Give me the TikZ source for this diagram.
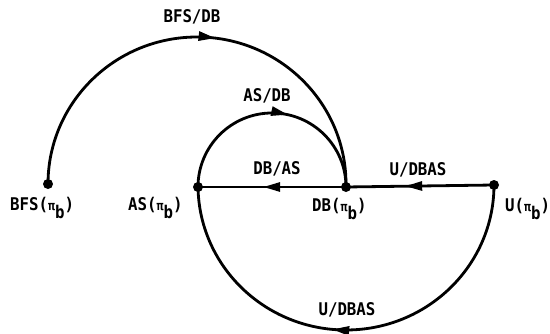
\documentclass[tikz,border=0pt]{standalone}
\usepackage{fontspec}
\newfontfamily\lblfont{DejaVu Sans Mono}[FakeStretch=0.9]
\usetikzlibrary{decorations.markings,arrows.meta}
\tikzset{
  lbl/.style={font=\lblfont\bfseries\fontsize{17.5}{18}\selectfont, inner sep=0pt},
  dot/.style={circle,fill,inner sep=0pt,minimum size=10pt},
  edge/.style={line width=2.8pt},
  midarrow/.style={postaction={decorate},
    decoration={markings,mark=at position #1 with {\arrow{Triangle[length=17pt,width=9pt]}}}},
}
\newcommand{\pib}{({\fontsize{13}{13}\selectfont π}\raisebox{-0.9ex}{b})}
\begin{document}
\begin{tikzpicture}[x=1pt,y=1pt]
\useasboundingbox (0,0) rectangle (550,333);
% states
\node[dot] (bfs) at (48,149) {};
\node[dot] (as)  at (198,146) {};
\node[dot] (db)  at (346,146) {};
\node[dot] (u)   at (494,148) {};
% state labels
\node[lbl, anchor=base west] (lbfs) at (10,123) {BFS\pib};
\node[lbl, anchor=base west] (las)  at (128,123) {AS\pib};
\node[lbl, anchor=base west] (ldb)  at (312,122) {DB\pib};
\node[lbl, anchor=base west] (lu)   at (505,122) {U\pib};
% transitions
\draw[edge, midarrow=0.54] (bfs.center) arc[start angle=180, end angle=0, x radius=149, y radius=147];
\draw[edge, midarrow=0.57] (as.center) arc[start angle=180, end angle=0, radius=74];
\draw[edge, midarrow=0.56] (db.center) -- (as.center);
\draw[edge, midarrow=0.6] (u.center) -- (db.center);
\draw[edge, midarrow=0.53] (u.center) arc[start angle=0, end angle=-180, x radius=148, y radius=145];
% transition labels
\node[lbl] (tbfsdb) at (192,316) {BFS/DB};
\node[lbl] (tasdb)  at (267,237) {AS/DB};
\node[lbl] (tdbas)  at (277,164) {DB/AS};
\node[lbl] (tudbas) at (418,163) {U/DBAS};
\node[lbl] (tudbas2) at (347,23) {U/DBAS};
\end{tikzpicture}
\end{document}
